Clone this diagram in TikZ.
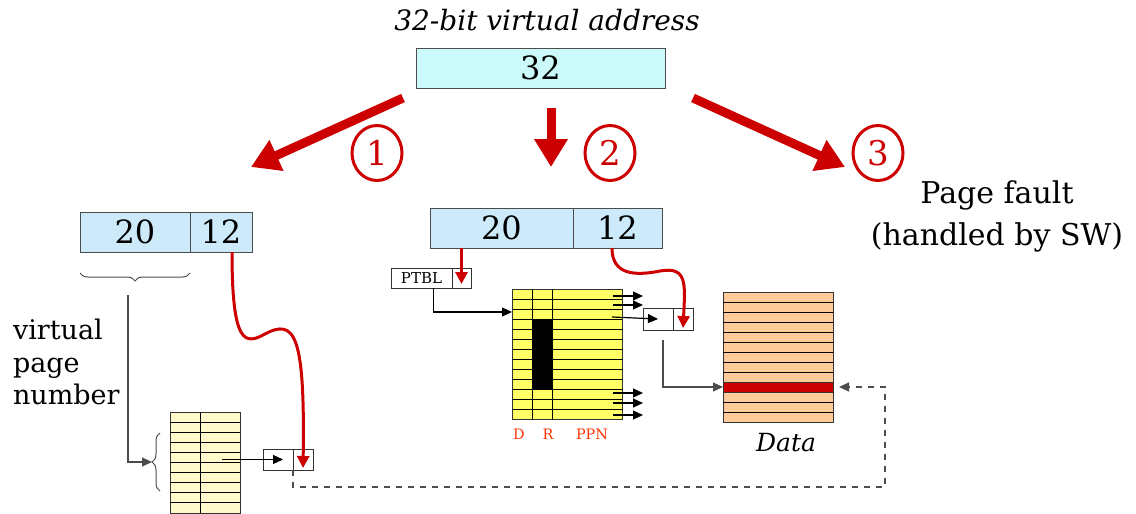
\documentclass[tikz,border=0pt]{standalone}
\usepackage{fontspec}
\setmainfont{DejaVu Serif}
\usetikzlibrary{positioning,shapes.geometric,arrows.meta,decorations.pathreplacing}
\definecolor{addrcyan}{HTML}{CCF9F9}
\definecolor{fieldblue}{HTML}{CCEAFA}
\definecolor{ptyellow}{HTML}{FFFF66}
\definecolor{ptcream}{HTML}{FFF9CC}
\definecolor{datapeach}{HTML}{FFCC99}
\definecolor{vmred}{HTML}{CC0000}
\definecolor{lblred}{HTML}{FF3300}
\begin{document}
\begin{tikzpicture}[x=0.5pt,y=-0.5pt,
  field/.style={draw=black!70,fill=fieldblue,minimum height=20pt,inner sep=0pt,outer sep=0pt,font=\fontsize{16}{16}\selectfont},
  cell/.style={draw=black!80,fill=white,inner sep=0pt,outer sep=0pt},
  tab/.style={draw=black!80,inner sep=0pt,outer sep=0pt,minimum width=55pt},
  num/.style={ellipse,draw=vmred,line width=1.5pt,text=vmred,minimum width=25pt,minimum height=27.5pt,inner sep=0pt,font=\fontsize{17}{17}\selectfont},
  bigarrow/.style={draw=vmred,line width=4.5pt,-{Triangle[length=14pt,width=16pt]}},
  redline/.style={draw=vmred,line width=1.5pt,-{Triangle[length=6pt,width=6pt]},shorten >=1pt},
  bline/.style={draw=black,line width=0.6pt,-{Triangle[length=5pt,width=4.5pt]}},
  gline/.style={draw=black!70,line width=0.6pt,-{Triangle[length=5pt,width=4.5pt]}},
  dline/.style={draw=black!70,line width=0.6pt,dashed,-{Triangle[length=5pt,width=4.5pt]},shorten >=3pt},
  brace/.style={draw=black!70,line width=0.5pt,decorate,decoration={brace,mirror,amplitude=4pt}},
  lbl/.style={text=lblred,font=\fontsize{7.2}{7.2}\selectfont}]
\useasboundingbox (0,0) rectangle (1136,514);

\node[font=\itshape\fontsize{14}{14}\selectfont] (title) at (547,20) {32-bit virtual address};
\node[field,fill=addrcyan,minimum width=124.5pt] (va) at (540.5,68) {32};

\coordinate (a1s) at (403,98);  \coordinate (a1e) at (251,167);
\coordinate (a2s) at (551,108); \coordinate (a2e) at (551,167);
\coordinate (a3s) at (693,98);  \coordinate (a3e) at (845,167);
\draw[bigarrow] (a1s) -- (a1e);
\draw[bigarrow] (a2s) -- (a2e);
\draw[bigarrow] (a3s) -- (a3e);
\node[num] (c1) at (377,153) {1};
\node[num] (c2) at (610,153) {2};
\node[num] (c3) at (878,153) {3};
\node[align=center,font=\fontsize{15}{21}\selectfont] (pf) at (997,216) {Page fault\\(handled by SW)};

% 1: walk the table in software
\node[field,minimum width=55pt] (la) at (135,232) {20};
\node[field,minimum width=31pt,right=0pt of la] (lb) {12};
\draw[brace] (80,273) -- (190,273);
\node[align=left,anchor=north west,font=\fontsize{13.5}{16.25}\selectfont] (vpnl) at (6,312) {virtual\\page\\number};
\coordinate (vpn) at (128,295);
\node[tab,fill=ptcream,minimum width=35pt,minimum height=50.5pt] (pt1) at (205,462.5) {};
\foreach \y in {422,432,...,502} \draw (170,\y) -- (240,\y);
\draw (200,412) -- (200,513);
\draw[brace] (160,433) -- (160,491);
\coordinate (bt) at (152,462);
\draw[gline] (vpn) |- (bt);
\node[cell,minimum width=15pt,minimum height=10.5pt] (pe1a) at (278,459.5) {};
\node[cell,minimum width=10pt,minimum height=10.5pt,right=0pt of pe1a] (pe1b) {};
\coordinate (e1) at (222,459.5);
\draw[bline] (e1) -- ([xshift=2.5pt]pe1a.center);
\draw[redline] ([xshift=5.5pt]lb.south) .. controls (232,345) and (245,345) .. (265,334)
  .. controls (295,318) and (305,335) .. (pe1b.south);

% 2: hardware page table
\node[field,minimum width=71.5pt] (ma) at (501.5,228) {20};
\node[field,minimum width=44.5pt,right=0pt of ma] (mb) {12};
\node[cell,minimum width=30.5pt,minimum height=10pt,font=\fontsize{7.5}{7.5}\selectfont] (pta) at (421.5,278) {PTBL};
\node[cell,minimum width=9.5pt,minimum height=10pt,right=0pt of pta] (ptb) {};
\draw[redline] (ptb.center |- ma.south) -- ([yshift=1pt]ptb.south);
\node[tab,fill=ptyellow,minimum height=65pt] (pg) at (567,354) {};
\foreach \y in {299,309,...,409} \draw (512,\y) -- (622,\y);
\draw (532,289) -- (532,419) (552,289) -- (552,419);
\fill (532,319) rectangle (552,389);
\draw[bline] ([xshift=6pt]pta.south) |- ([yshift=-11.5pt]pg.north west);
\node[lbl] (lD) at (519,434) {D};
\node[lbl] (lR) at (548,434) {R};
\node[lbl] (lP) at (592,434) {PPN};
\node[cell,minimum width=15pt,minimum height=11pt] (pe2a) at (658,319) {};
\node[cell,minimum width=10pt,minimum height=11pt,right=0pt of pe2a] (pe2b) {};
\foreach \y in {296,305,393,403,415} \draw[bline] (613,\y) -- (643,\y);
\coordinate (e2) at (612,317);
\draw[bline] (e2) -- (pe2a.center);
\draw[redline] ([xshift=-2.75pt]mb.south) .. controls (612,275) and (635,276) .. (660,271)
  .. controls (688,266) and (685,285) .. (pe2b.south);

% data page
\node[tab,fill=datapeach,minimum height=65pt] (mem) at (778,357) {};
\foreach \y in {302,312,...,412} \draw (723,\y) -- (833,\y);
\node[tab,fill=vmred,minimum height=5pt] (hit) at (778,387) {};
\node[font=\itshape\fontsize{12.5}{12.5}\selectfont] (dlab) at (786,443) {Data};
\coordinate (e3) at (663,340);
\draw[gline] (e3) |- (hit.west);
\coordinate (dd) at (885,487);
\draw[dline] (pe1a.south east) |- (dd) |- (hit.east);
\end{tikzpicture}
\end{document}
